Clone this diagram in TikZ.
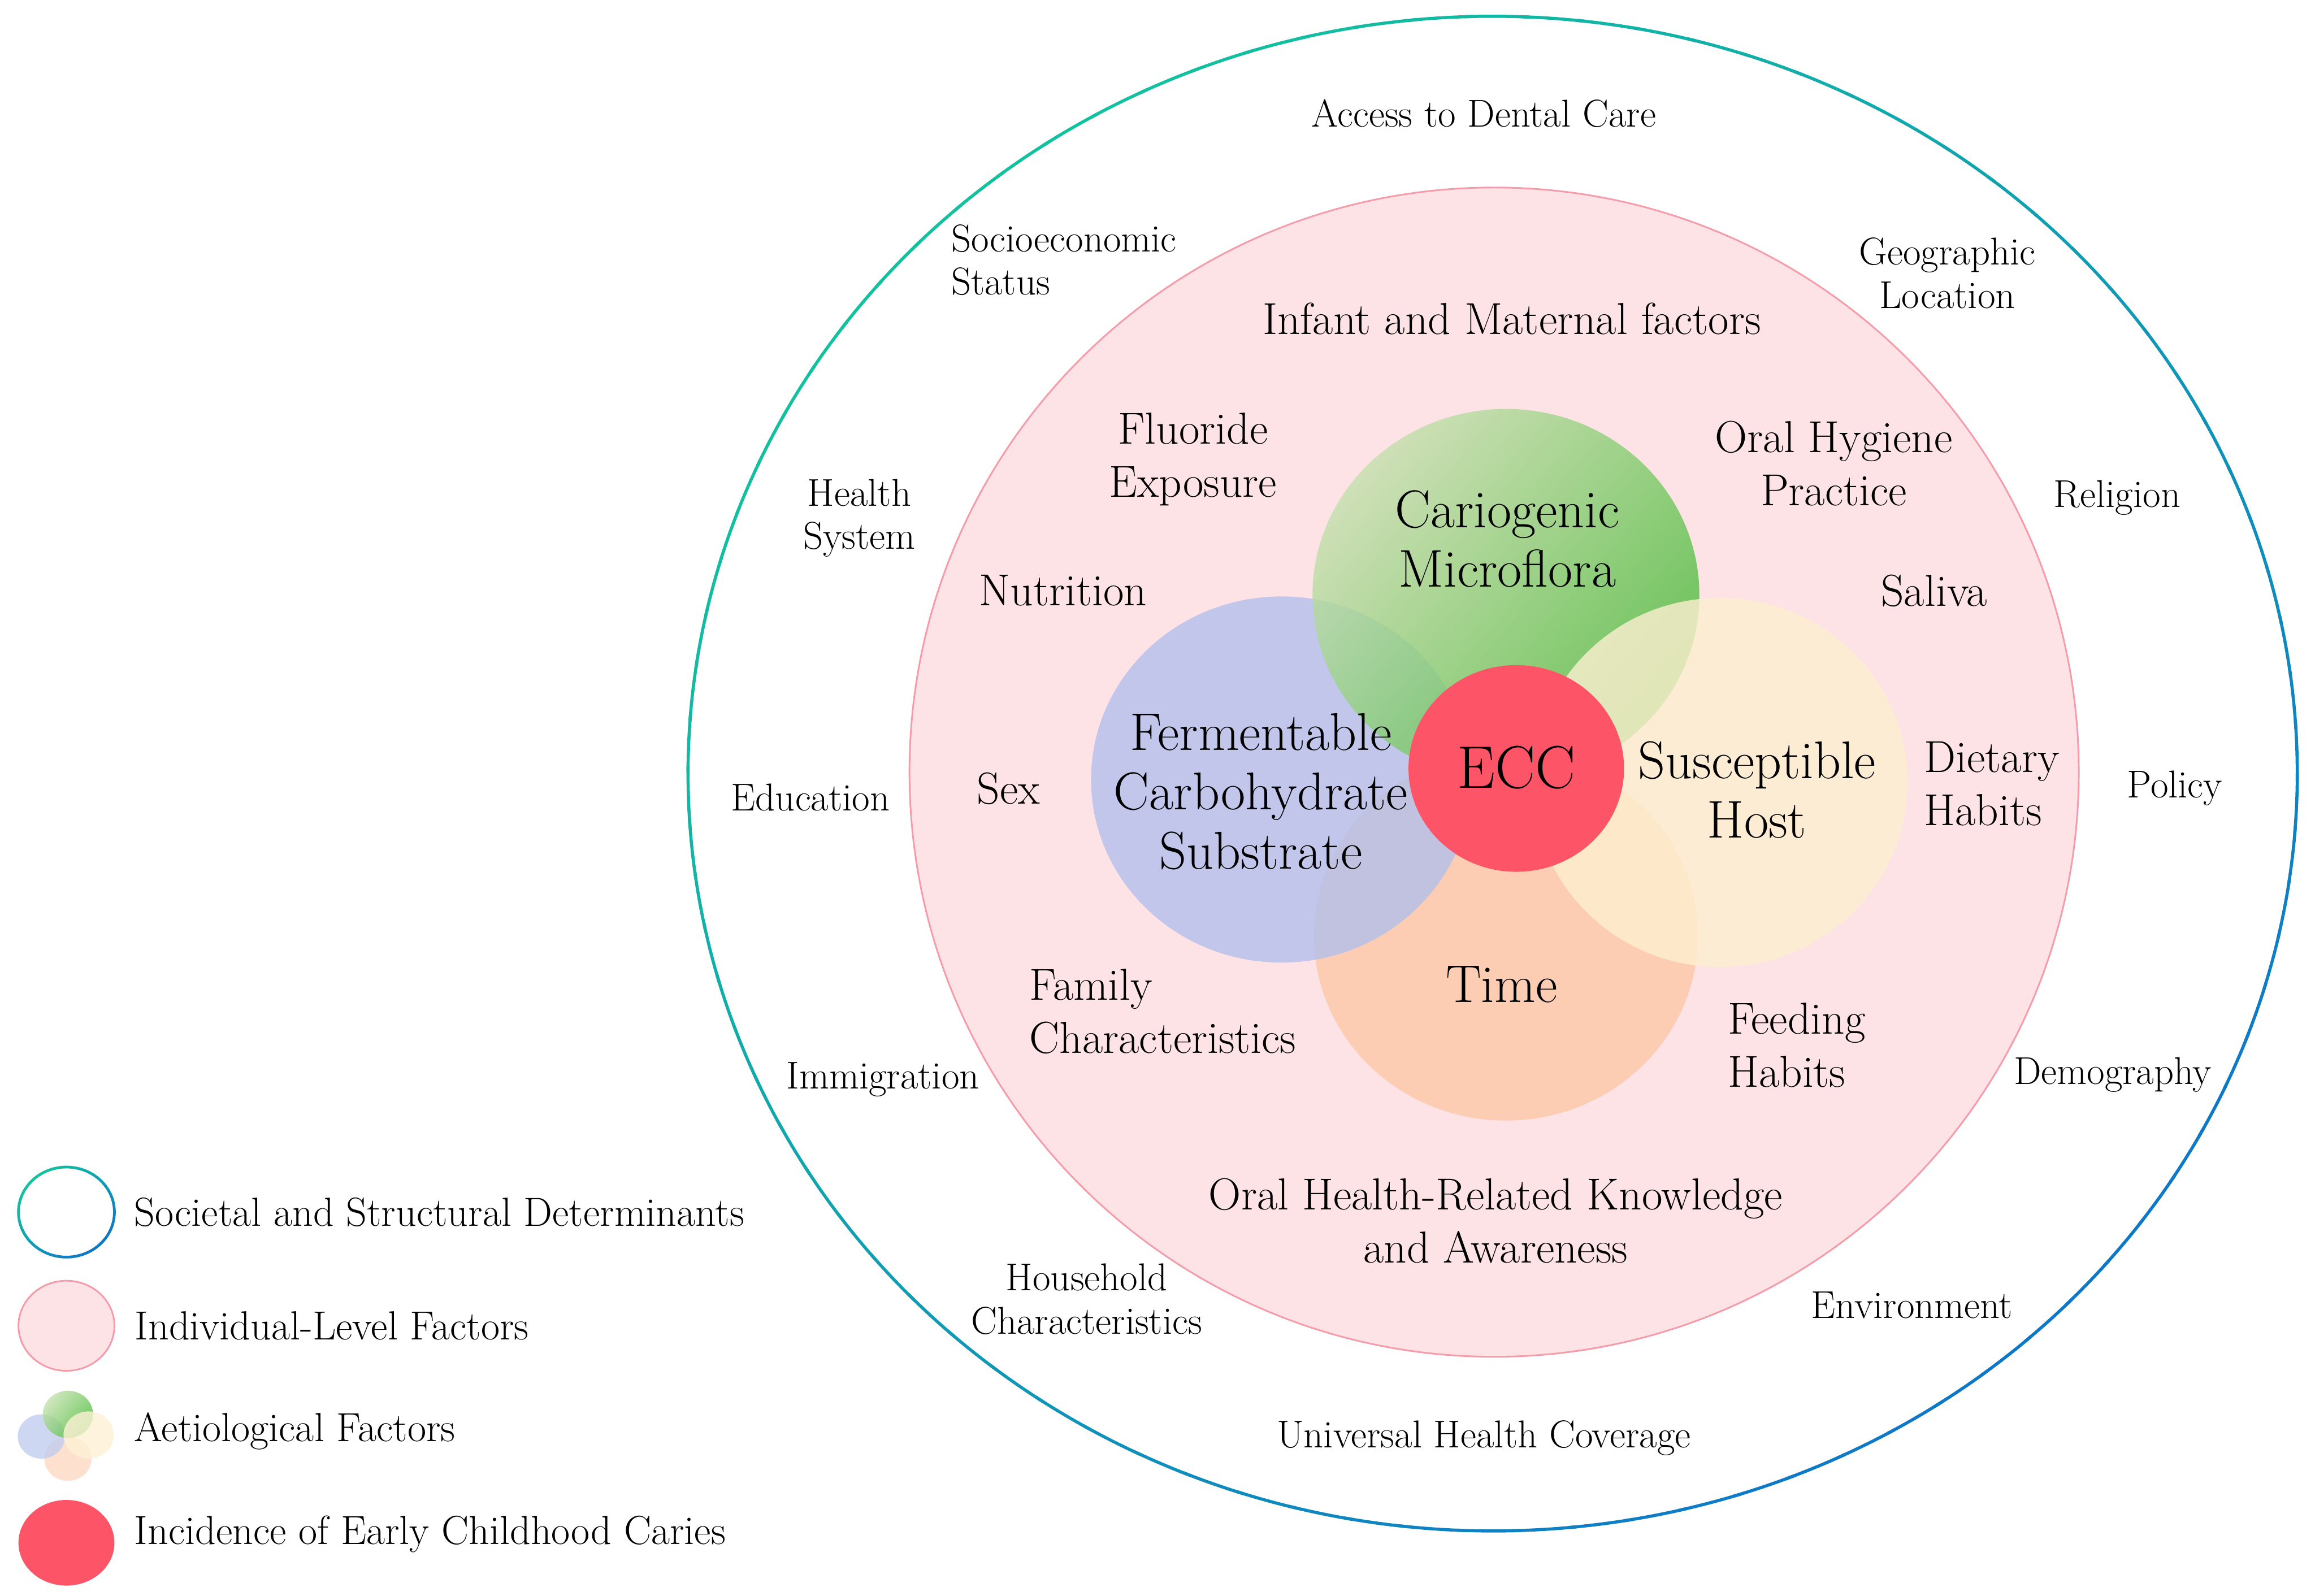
\documentclass[tikz,border=0pt]{standalone}
\usepackage{xcolor}
\usepackage{tikz}
\usetikzlibrary{
    positioning,
    shapes.geometric
}
\definecolor{ecTeal}{HTML}{12C39E}
\definecolor{ecBlue}{HTML}{0E78C8}
\definecolor{ecPinkFill}{HTML}{FDE2E6}
\definecolor{ecPinkLine}{HTML}{F59BAA}
\definecolor{ecLavender}{HTML}{B2C0EB}
\definecolor{ecPeach}{HTML}{FCC8A7}
\definecolor{ecCream}{HTML}{FEEFD0}
\definecolor{ecGreenLight}{HTML}{C4E0AC}
\definecolor{ecGreenDark}{HTML}{48BB37}
\definecolor{ecRed}{HTML}{FE5467}
% ring whose colour runs from teal (upper left) to blue (lower right)
\newcommand{\ecGradRing}[4]{%
    \foreach \ang in {0,4,...,356}{%
        \pgfmathtruncatemacro{\mixpct}{50+50*cos(\ang-225)}%
        \draw[line width=#4, ecTeal!\mixpct!ecBlue]
            (#1) ++(\ang:#2 and #3)
            arc[start angle=\ang, delta angle=4.6, x radius=#2, y radius=#3];
    }%
}
\tikzset{
    ecSoc/.style={
        font=\fontsize{18.7}{20.8}\selectfont,
        align=center,
        inner sep=0pt
    },
    ecInd/.style={
        font=\fontsize{21.6}{25.6}\selectfont,
        align=center,
        inner sep=0pt
    },
    ecAet/.style={
        font=\fontsize{25.6}{28.6}\selectfont,
        align=center,
        inner sep=0pt
    },
    ecLeg/.style={
        font=\fontsize{19.6}{22}\selectfont,
        inner sep=0pt
    },
    ecSwatch/.style={
        ellipse,
        minimum width=16.25mm,
        minimum height=15.25mm,
        inner sep=0pt
    },
    ecFactor/.style={fill opacity=0.8}
}

\begin{document}
\begin{tikzpicture}[x=0.25mm,y=-0.25mm]
    \useasboundingbox (0,0) rectangle (1568,1081);
    \coordinate (ctr) at (1011,524);

    % individual-level disc and societal ring
    \fill[ecPinkFill] (1012,523) ellipse [x radius=396, y radius=396];
    \draw[ecPinkLine, line width=0.8pt] (1012,523) ellipse [x radius=396, y radius=396];
    \ecGradRing{ctr}{545}{513}{1.5pt}

    % aetiological factors
    \fill[ecPeach, ecFactor] (1020,634) ellipse [x radius=130, y radius=125];
    \fill[ecLavender, ecFactor] (868,528) ellipse [x radius=129, y radius=124];
    \shade[top color=ecGreenLight, bottom color=ecGreenDark, shading angle=50, ecFactor]
        (1020,403) ellipse [x radius=131, y radius=126];
    \fill[ecCream, ecFactor] (1165,530) ellipse [x radius=127, y radius=125];
    \fill[ecRed] (1027,520.5) ellipse [x radius=73, y radius=70];

    % societal and structural determinants
    \node[ecSoc] (soAccess) at (1005,77) {Access to Dental Care};
    \node[ecSoc,align=left,anchor=west] (soSocio) at (644,176) {Socioeconomic\\Status};
    \node[ecSoc] (soGeo) at (1319,185) {Geographic\\Location};
    \node[ecSoc] (soHealth) at (582,351) {Health\\System};
    \node[ecSoc] (soReligion) at (1434,337) {Religion};
    \node[ecSoc] (soEdu) at (549,540) {Education};
    \node[ecSoc] (soPolicy) at (1473,534) {Policy};
    \node[ecSoc] (soImmig) at (598,731) {Immigration};
    \node[ecSoc] (soDemog) at (1431,728) {Demography};
    \node[ecSoc] (soHouse) at (736,880) {Household\\Characteristics};
    \node[ecSoc] (soEnv) at (1295,884) {Environment};
    \node[ecSoc] (soUhc) at (1005,974) {Universal Health Coverage};

    % individual-level factors
    \node[ecInd] (inInfant) at (1024,216) {Infant and Maternal factors};
    \node[ecInd] (inFluor) at (808,311) {Fluoride\\Exposure};
    \node[ecInd] (inOral) at (1242,314) {Oral Hygiene\\Practice};
    \node[ecInd] (inNutr) at (720,400) {Nutrition};
    \node[ecInd] (inSaliva) at (1310,400) {Saliva};
    \node[ecInd] (inSex) at (683,534) {Sex};
    \node[ecInd,align=left,anchor=west] (inDiet) at (1303,531) {Dietary\\Habits};
    \node[ecInd,align=left,anchor=west] (inFamily) at (697,685) {Family\\Characteristics};
    \node[ecInd,align=left,anchor=west] (inFeed) at (1170,708) {Feeding\\Habits};
    \node[ecInd] (inKnow) at (1013,827) {Oral Health-Related Knowledge\\and Awareness};

    % aetiological factors and outcome
    \node[ecAet] (aeMicro) at (1021,365) {Cariogenic\\Microflora};
    \node[ecAet] (aeCarb) at (854,536) {Fermentable\\Carbohydrate\\Substrate};
    \node[ecAet] (aeHost) at (1190,535) {Susceptible\\Host};
    \node[ecAet] (aeTime) at (1017,667) {Time};
    \node[ecAet,font=\fontsize{29}{34}\selectfont] (ecc) at (1027,520) {ECC};

    % legend
    \node[ecSwatch] (legSoc) at (45,821) {};
    \ecGradRing{legSoc.center}{32.5}{30.5}{1.3pt}
    \node[ecSwatch,fill=ecPinkFill,draw=ecPinkLine,line width=0.8pt] (legInd) at (45,898) {};
    \node[ecSwatch] (legAet) at (45,972) {};
    \fill[ecPeach!70, ecFactor] (46,988) ellipse [x radius=16, y radius=15];
    \fill[ecLavender!80, ecFactor] (28,973) ellipse [x radius=16, y radius=15];
    \shade[top color=ecGreenLight, bottom color=ecGreenDark, shading angle=50, ecFactor]
        (46,958) ellipse [x radius=17, y radius=16];
    \fill[ecCream!90, ecFactor] (60,972) ellipse [x radius=17, y radius=16];
    \node[ecSwatch,fill=ecRed,minimum height=14.5mm] (legEcc) at (45,1045) {};

    \node[ecLeg,right=3.25mm of legSoc] (legSocTxt) {Societal and Structural Determinants};
    \node[ecLeg,right=3.25mm of legInd] (legIndTxt) {Individual-Level Factors};
    \node[ecLeg,right=3.25mm of legAet,yshift=0.6mm] (legAetTxt) {Aetiological Factors};
    \node[ecLeg,right=3.25mm of legEcc,yshift=1.5mm] (legEccTxt) {Incidence of Early Childhood Caries};
\end{tikzpicture}
\end{document}
